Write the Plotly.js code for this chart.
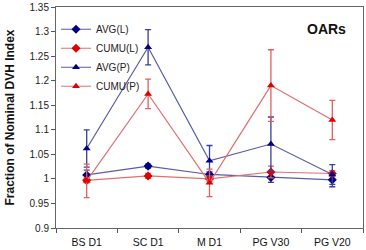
<!DOCTYPE html>
<html>
<head>
<meta charset="utf-8">
<script src="https://cdn.plot.ly/plotly-3.0.1.min.js"></script>
<style>html,body{margin:0;padding:0;background:#fff;}#chart{width:366px;height:250px;}</style>
</head>
<body>
<div id="chart"></div>
<script>
const categories = ['BS D1', 'SC D1', 'M D1', 'PG V30', 'PG V20'];
const avgL = [1.008, 1.026, 1.009, 1.003, 0.998];
const avgLErr = [0.010, 0.004, 0.005, 0.010, 0.014];
const cumuL = [0.997, 1.006, 1.000, 1.014, 1.011];
const cumuLErr = [0.005, 0.005, 0.006, 0.012, 0.006];
const avgP = [1.062, 1.268, 1.037, 1.071, 1.009];
const avgPErr = [0.038, 0.036, 0.031, 0.055, 0.020];
const cumuP = [0.996, 1.173, 0.992, 1.190, 1.120];
const cumuPErr = [0.034, 0.030, 0.028, 0.073, 0.040];
const seriesNames = ['AVG(L)', 'CUMU(L)', 'AVG(P)', 'CUMU(P)'];

const blueLine = '#5a5aa8', blueMark = '#000080', blueErr = '#3c3c9c';
const redLine = '#e07070', redMark = '#e00000', redErr = '#e06060';

function mk(name, y, err, lc, mc, ec, sym) {
  return {
    type: 'scatter', mode: 'lines+markers', name: name,
    x: categories, y: y,
    line: {color: lc, width: 1.2},
    marker: {color: mc, symbol: sym, size: 7},
    error_y: {type: 'data', array: err, visible: true, color: ec, thickness: 1.3, width: 3}
  };
}

const data = [
  mk(seriesNames[0], avgL, avgLErr, blueLine, blueMark, blueErr, 'diamond'),
  mk(seriesNames[1], cumuL, cumuLErr, redLine, redMark, redErr, 'diamond'),
  mk(seriesNames[2], avgP, avgPErr, blueLine, blueMark, blueErr, 'triangle-up'),
  mk(seriesNames[3], cumuP, cumuPErr, redLine, redMark, redErr, 'triangle-up')
];

const layout = {
  width: 366, height: 250,
  margin: {l: 56, r: 3, t: 7, b: 22},
  paper_bgcolor: '#fff', plot_bgcolor: '#fff',
  font: {family: 'Liberation Sans, Arial, sans-serif', size: 10, color: '#222'},
  showlegend: true,
  legend: {x: 0.0, y: 0.965, xanchor: 'left', yanchor: 'top', bgcolor: 'rgba(0,0,0,0)',
           font: {size: 10, color: '#222'}, itemwidth: 30, tracegroupgap: 0},
  xaxis: {
    type: 'category', tickson: 'boundaries', ticks: 'outside', ticklen: 4,
    tickcolor: '#555', showline: true, linecolor: '#666', linewidth: 1, mirror: true,
    showgrid: false, zeroline: false, tickfont: {size: 10.5, color: '#111'},
    ticklabelstandoff: 4,
    range: [-0.5, 4.5], automargin: false
  },
  yaxis: {
    range: [0.9, 1.35], dtick: 0.05, tick0: 0.9, ticks: 'outside', ticklen: 4,
    tickcolor: '#555', showline: true, linecolor: '#666', linewidth: 1, mirror: true,
    showgrid: false, zeroline: false, tickfont: {size: 10, color: '#222'},
    automargin: false,
    title: {text: 'Fraction of Nominal DVH Index', font: {size: 12, color: '#111', weight: 'bold'}, standoff: 12}
  },
  annotations: [{
    text: '<b>OARs</b>', xref: 'paper', yref: 'paper', x: 0.88, y: 0.9,
    xanchor: 'center', yanchor: 'middle', showarrow: false,
    font: {size: 14, color: '#111'}
  }]
};

Plotly.newPlot('chart', data, layout, {displayModeBar: false, staticPlot: true});
</script>
</body>
</html>
